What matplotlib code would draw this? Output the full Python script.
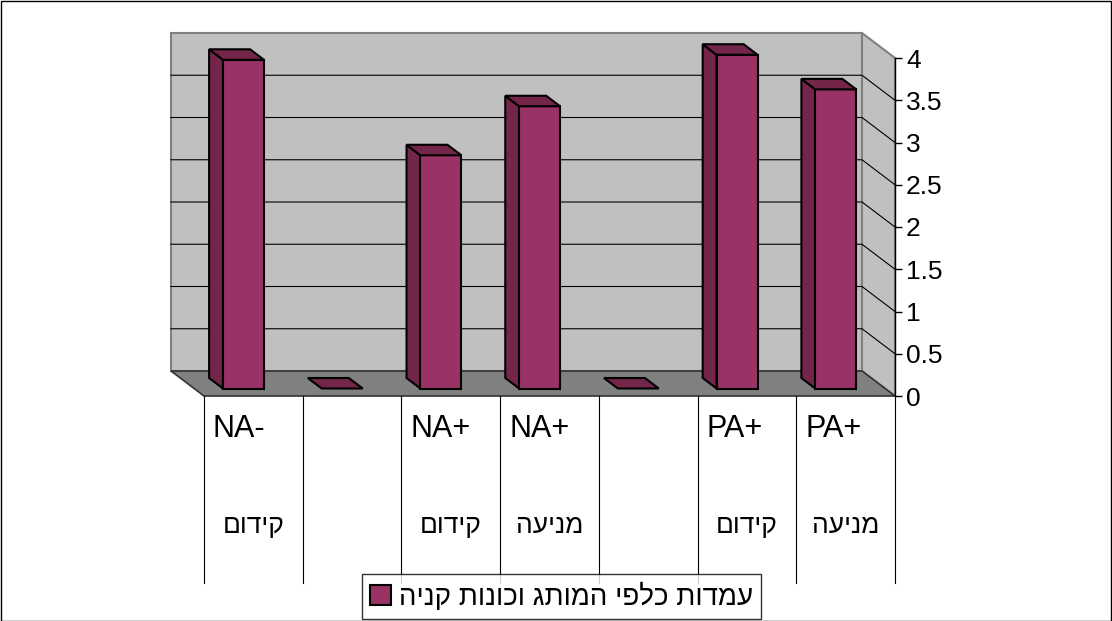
import matplotlib
matplotlib.use('Agg')
import matplotlib.pyplot as plt
from matplotlib.patches import Polygon, Rectangle

plt.rcParams['font.family'] = ['Liberation Sans', 'DejaVu Sans']

# data
line1 = ['NA-', '', 'NA+', 'NA+', '', 'PA+', 'PA+']
line2 = ['קידום', '', 'קידום', 'מניעה', '', 'קידום', 'מניעה']
values = [3.89, 0, 2.76, 3.34, 0, 3.95, 3.54]
series_name = 'עמדות כלפי המותג וכונות קניה'
yticks = [0, 0.5, 1, 1.5, 2, 2.5, 3, 3.5, 4]


def vis(s):
    # matplotlib has no bidi, so flip hebrew for display
    return s[::-1]


W, H = 1112, 621
fig = plt.figure(figsize=(W / 100, H / 100), dpi=100)
ax = fig.add_axes([204 / W, 1 - 396 / H, (895 - 204) / W, (396 - 58) / H])
n = len(values)
ax.set_xlim(-0.5, n - 0.5)
ax.set_ylim(0, 4)
ax.patch.set_visible(False)

# 3d depth in data units
px_x = (n) / (895 - 204)
px_y = 4 / (396 - 58)
DX, DY = -33 * px_x, 25 * px_y

wall_c = '#c0c0c0'
floor_c = '#808080'
edge_c = '#808080'
x0, x1 = -0.5, n - 0.5

# back wall
ax.add_patch(Polygon([(x0 + DX, DY), (x1 + DX, DY), (x1 + DX, 4 + DY), (x0 + DX, 4 + DY)],
                     closed=True, fc=wall_c, ec=edge_c, lw=1.5, clip_on=False, zorder=1))
# right side wall
ax.add_patch(Polygon([(x1 + DX, DY), (x1, 0), (x1, 4), (x1 + DX, 4 + DY)],
                     closed=True, fc=wall_c, ec=edge_c, lw=1.5, clip_on=False, zorder=1))
# floor
ax.add_patch(Polygon([(x0, 0), (x1, 0), (x1 + DX, DY), (x0 + DX, DY)],
                     closed=True, fc=floor_c, ec='#333333', lw=1.2, clip_on=False, zorder=2))

# gridlines
for t in yticks[1:-1]:
    ax.plot([x0 + DX, x1 + DX, x1], [t + DY, t + DY, t], color='black', lw=0.8,
            clip_on=False, zorder=3)

# bars
bw = 0.415
f0, f1 = 0.30, 0.72
front_c = '#993366'
dark_c = '#732649'
for i, v in enumerate(values):
    l, r = i - bw / 2 + f0 * DX, i + bw / 2 + f0 * DX
    b, t = f0 * DY, v + f0 * DY
    ddx, ddy = (f1 - f0) * DX, (f1 - f0) * DY
    top = [(l, t), (r, t), (r + ddx, t + ddy), (l + ddx, t + ddy)]
    if v > 0:
        side = [(l, b), (l, t), (l + ddx, t + ddy), (l + ddx, b + ddy)]
        ax.add_patch(Polygon(side, closed=True, fc=dark_c, ec='black', lw=1.5,
                             joinstyle='miter', clip_on=False, zorder=4))
        ax.add_patch(Rectangle((l, b), r - l, t - b, fc=front_c, ec='black', lw=1.5,
                               joinstyle='miter', clip_on=False, zorder=5))
    ax.add_patch(Polygon(top, closed=True, fc=dark_c, ec='black', lw=1.5,
                         joinstyle='miter', clip_on=False, zorder=5))

# axis on the right
for s in ['left', 'top', 'bottom']:
    ax.spines[s].set_visible(False)
ax.spines['right'].set_color('black')
ax.spines['right'].set_linewidth(1.0)
ax.yaxis.tick_right()
ax.set_yticks(yticks)
ax.set_yticklabels([f'{t:g}' for t in yticks], fontsize=19)
ax.tick_params(axis='y', length=5, width=1, pad=3)
ax.set_xticks([])

# category table below
y_bot = -(583 - 396) * px_y
for k in range(n + 1):
    ax.plot([k - 0.5, k - 0.5], [0, y_bot], color='black', lw=0.8, clip_on=False, zorder=2)
for i in range(n):
    ax.text(i - 0.5 + 0.09, -(429 - 396) * px_y, line1[i], fontsize=22,
            ha='left', va='center', clip_on=False)
    ax.text(i, -(526 - 396) * px_y, vis(line2[i]), fontsize=19,
            ha='center', va='center', clip_on=False)

# legend
h = Rectangle((0, 0), 1, 1, fc=front_c, ec='black', lw=1.5)
leg = fig.legend([h], [vis(series_name)], loc='center',
                 bbox_to_anchor=(561.5 / W, 1 - 596.5 / H), fontsize=20,
                 frameon=True, fancybox=False, edgecolor='black',
                 handlelength=0.75, handleheight=0.75, handletextpad=0.3,
                 borderpad=0.3, borderaxespad=0)
leg.get_frame().set_linewidth(1.0)

# outer border
fig.add_artist(Rectangle((0.5 / W, 0.5 / H), 1 - 2 / W, 1 - 1.5 / H, transform=fig.transFigure,
                         fill=False, ec='black', lw=1.0))

fig.savefig('out.png', dpi=100)
